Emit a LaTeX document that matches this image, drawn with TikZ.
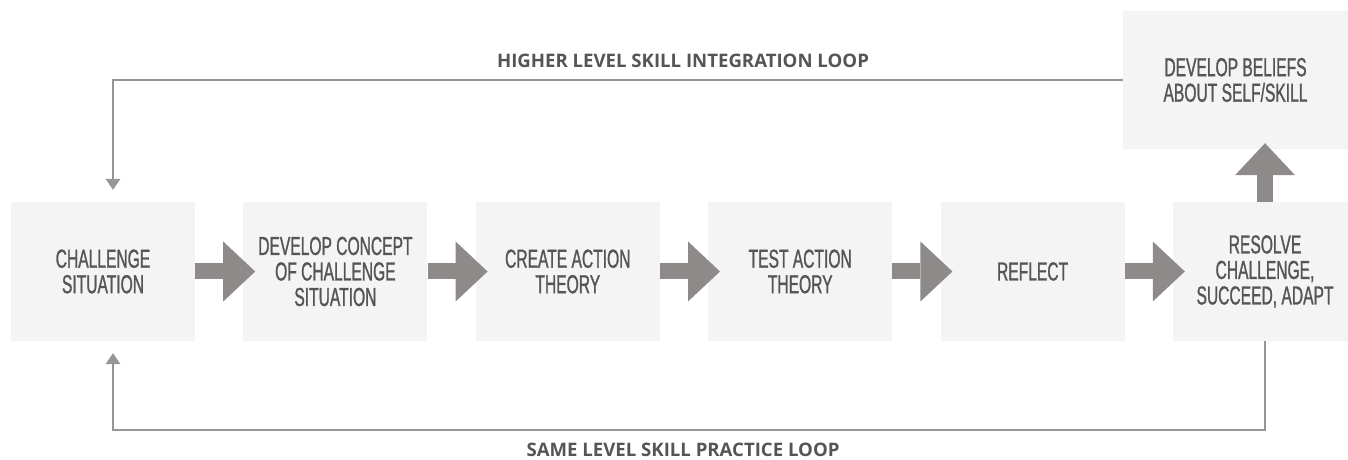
\documentclass[tikz,border=0pt]{standalone}
\usepackage{fontspec}
\usepackage{xcolor}
\usepackage{tikz}
\usetikzlibrary{positioning,arrows.meta,calc}
\newfontfamily\boxfont[FakeStretch=0.6,FakeBold=1]{Liberation Sans}
\newfontfamily\labelfont{Open Sans}
\definecolor{boxgray}{HTML}{F4F4F4}
\definecolor{arrowgray}{HTML}{8E8A89}
\definecolor{linegray}{HTML}{979595}
\definecolor{textgray}{HTML}{555555}

\begin{document}
\begin{tikzpicture}[x=1pt,y=1pt,node distance=48pt,
    stagebox/.style={fill=boxgray, minimum width=184pt, minimum height=139pt, inner sep=0pt,
        align=center, text=textgray, font=\boxfont\fontsize{26}{25.5}\selectfont},
    bigarrow/.style={arrowgray, line width=16pt, -{Triangle[length=32pt,width=60pt,line width=0pt]}},
    loopline/.style={linegray, line width=2.4pt, -{Triangle[length=11pt,width=15pt,line width=0pt]}},
    looplabel/.style={text=textgray, inner sep=0pt, anchor=base,
        font=\labelfont\bfseries\fontsize{18.6}{20}\selectfont}]
    \useasboundingbox (0,0) rectangle (1348,460);
    % stages
    \node[stagebox] (chal) at (103,188.5) {CHALLENGE\\SITUATION};
    \node[stagebox, right=of chal] (concept) {DEVELOP CONCEPT\\OF CHALLENGE\\SITUATION};
    \node[stagebox, right=of concept] (create) {CREATE ACTION\\THEORY};
    \node[stagebox, right=of create] (test) {TEST ACTION\\THEORY};
    \node[stagebox, right=of test] (reflect) {REFLECT};
    \node[stagebox, right=of reflect] (resolve) {RESOLVE\\CHALLENGE,\\SUCCEED, ADAPT};
    \node[stagebox, minimum width=225pt, minimum height=138pt] (beliefs) at (1235.5,380) {DEVELOP BELIEFS\\ABOUT SELF/SKILL};
    % fat arrows
    \foreach \a/\b in {chal/concept, concept/create, create/test, test/reflect, reflect/resolve}
        \draw[bigarrow, shorten >=-12pt] (\a) -- (\b);
    \draw[bigarrow, shorten >=-6pt] (resolve.north) -- (resolve.north |- beliefs.south);
    % loops
    \draw[loopline] (beliefs.west) -- ($(beliefs.west -| chal.north)+(10,0)$) -- ($(chal.north)+(10,12)$);
    \draw[loopline] (resolve.south) -- ++(0,-89) -| ($(chal.south)+(10,-12)$);
    \node[looplabel] (higher) at (683,392) {HIGHER LEVEL SKILL INTEGRATION LOOP};
    \node[looplabel] (same) at (683,3.5) {SAME LEVEL SKILL PRACTICE LOOP};
\end{tikzpicture}
\end{document}
